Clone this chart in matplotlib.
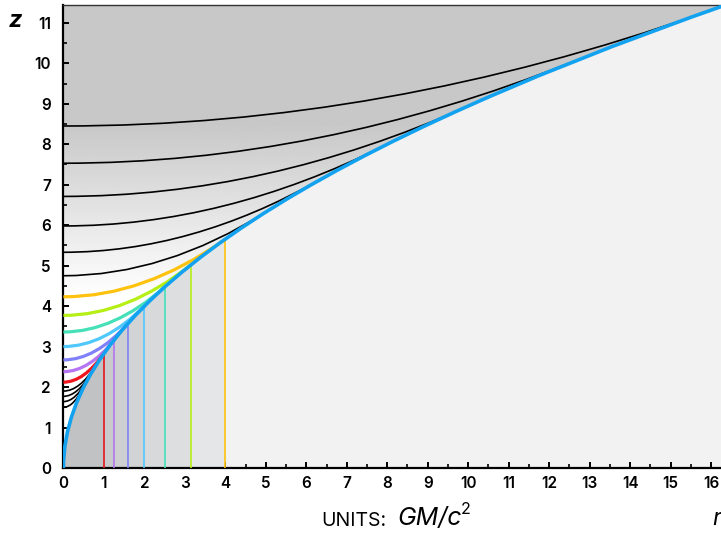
import numpy as np
import matplotlib
matplotlib.use("Agg")
import matplotlib.pyplot as plt
from matplotlib.path import Path
from matplotlib.patches import PathPatch, Rectangle

plt.rcParams['font.family'] = ['Inter', 'DejaVu Sans']

# ---------------- data ----------------
# outer boundary curve (blue): starts at origin with a vertical tangent,
# passes the top-right corner
blue_start = (0.0, 0.0)
blue_end = (16.5, 11.49)

# each inner curve: flat start at r = 0 (height z0), joins the blue curve
# tangentially at radius R (height zR)
curve_R = [15.85, 12.59, 10.0, 7.94, 6.31, 5.01,
           3.98, 3.16, 2.51, 2.0, 1.585, 1.26, 1.0,
           0.8, 0.7, 0.6, 0.5]
curve_z0 = [8.45, 7.53, 6.71, 5.98, 5.33, 4.75,
            4.23, 3.77, 3.36, 3.00, 2.67, 2.38, 2.12,
            1.90, 1.77, 1.64, 1.50]
curve_zR = [11.26, 10.04, 8.94, 7.97, 7.11, 6.33,
            5.64, 5.03, 4.48, 4.00, 3.56, 3.17, 2.83,
            2.53, 2.37, 2.19, 2.00]
curve_colors = ['black'] * 6 + ['#ffc20e', '#b5ef16', '#45e0b8', '#4fc8fb',
                                '#8080f8', '#b574f2', '#f0141c'] + ['black'] * 4

# colored vertical markers and the band shading beneath the blue curve
mark_R = [1.0, 1.26, 1.585, 2.0, 2.51, 3.16, 3.98]
mark_top = [2.83, 3.17, 3.56, 4.00, 4.48, 5.03, 5.64]
mark_colors = ['#e8141c', '#b574f2', '#8080f8', '#4fc8fb', '#45e0b8', '#b5ef16', '#ffc20e']
band_edges = [0, 1.0, 1.26, 1.585, 2.0, 2.51, 3.16, 3.98]
band_colors = ['#c0c2c4', '#c8cacc', '#cdcfd1', '#d1d3d5', '#d7d9db', '#dddee0', '#e5e6e8']

x_ticks = list(range(0, 17))
y_ticks = list(range(0, 12))

# ---------------- figure ----------------
W, H = 721, 538
fig = plt.figure(figsize=(W / 100, H / 100), dpi=100)
ax = fig.add_axes([63.4 / W, 70 / H, 1 - 63.4 / W, 463 / H])
xmax, ymax = 16.245, 11.44
ax.set_xlim(0, xmax)
ax.set_ylim(0, ymax)
ax.set_facecolor('#f2f2f2')

(bx0, bz0), (bx1, bz1) = blue_start, blue_end
blue_ctrl = (bx0, bz1 / 2.0)   # tangent intersection (vertical start tangent)

above = Path([(bx0, bz0), blue_ctrl, (bx1, bz1), (bx1, ymax + 2), (bx0, ymax + 2), (bx0, bz0)],
             [Path.MOVETO, Path.CURVE3, Path.CURVE3, Path.LINETO, Path.LINETO, Path.CLOSEPOLY])
below = Path([(bx0, bz0), blue_ctrl, (bx1, bz1), (bx1, -1), (bx0, -1), (bx0, bz0)],
             [Path.MOVETO, Path.CURVE3, Path.CURVE3, Path.LINETO, Path.LINETO, Path.CLOSEPOLY])

# vertical gradient above the blue curve
grad_z = np.linspace(0, ymax, 400)
lo, hi = 4.25, 8.5
t = np.clip((grad_z - lo) / (hi - lo), 0, 1)
g = 1.0 - t * (1.0 - 0.784)
img = np.repeat(g[:, None], 2, axis=1)
im = ax.imshow(img, extent=[0, xmax, 0, ymax], origin='lower', cmap='gray',
               vmin=0, vmax=1, aspect='auto', zorder=1, interpolation='bilinear')
clip_above = PathPatch(above, transform=ax.transData, facecolor='none', edgecolor='none')
ax.add_patch(clip_above)
im.set_clip_path(clip_above)

# bands below the blue curve
clip_below = PathPatch(below, transform=ax.transData, facecolor='none', edgecolor='none')
ax.add_patch(clip_below)
for i in range(len(band_colors)):
    a, b = band_edges[i], band_edges[i + 1]
    rect = Rectangle((a, 0), b - a, ymax, facecolor=band_colors[i], edgecolor='none', zorder=2)
    ax.add_patch(rect)
    rect.set_clip_path(clip_below)

# vertical markers
for R, top, c in zip(mark_R, mark_top, mark_colors):
    ax.plot([R, R], [0, top], color=c, lw=1.2, zorder=3, solid_capstyle='butt')

# inner curves: quadratic Bezier (flat start, tangent to blue at the join)
for R, z0, zR, c in zip(curve_R, curve_z0, curve_zR, curve_colors):
    p = Path([(0, z0), (R / 2.0, z0), (R, zR)], [Path.MOVETO, Path.CURVE3, Path.CURVE3])
    lw = 1.2 if c == 'black' else 2.3
    ax.add_patch(PathPatch(p, facecolor='none', edgecolor=c, lw=lw,
                           zorder=4 if c == 'black' else 5, capstyle='butt'))

blue_path = Path([(bx0, bz0), blue_ctrl, (bx1, bz1)], [Path.MOVETO, Path.CURVE3, Path.CURVE3])
ax.add_patch(PathPatch(blue_path, facecolor='none', edgecolor='#12a2f0', lw=2.6, zorder=6))

# axes styling
ax.spines['right'].set_visible(False)
ax.spines['top'].set_linewidth(1.0)
ax.spines['top'].set_color('#333333')
ax.spines['left'].set_linewidth(1.6)
ax.spines['bottom'].set_linewidth(1.6)
ax.set_xticks(x_ticks)
ax.set_yticks(y_ticks)
ax.set_xticks(np.arange(0.5, 16.5, 1), minor=True)
ax.set_yticks(np.arange(0.5, 11.5, 1), minor=True)
ax.tick_params(which='major', direction='in', length=4.3, width=1.4, labelsize=11,
               top=False, right=False)
ax.tick_params(which='minor', direction='in', length=2.9, width=1.2, top=False, right=False)
ax.tick_params(axis='x', pad=6)
ax.tick_params(axis='y', pad=9)
for lab in ax.get_xticklabels() + ax.get_yticklabels():
    lab.set_fontweight('semibold')

fig.text(15 / W, 1 - 21 / H, 'z', fontsize=17, fontstyle='italic', fontweight='bold',
         ha='center', va='center')
fig.text(712 / W, 1 - 519 / H, 'r', fontsize=17, fontstyle='italic',
         ha='left', va='center')
fig.text(386 / W, 1 - 521 / H, 'UNITS:', fontsize=14, ha='right', va='center')
fig.text(397 / W, 1 - 519 / H, 'GM/c', fontsize=18, fontstyle='italic',
         ha='left', va='center')
fig.text(461 / W, 1 - 510 / H, '2', fontsize=11.5, ha='left', va='center')

fig.savefig('out.png', dpi=100)
